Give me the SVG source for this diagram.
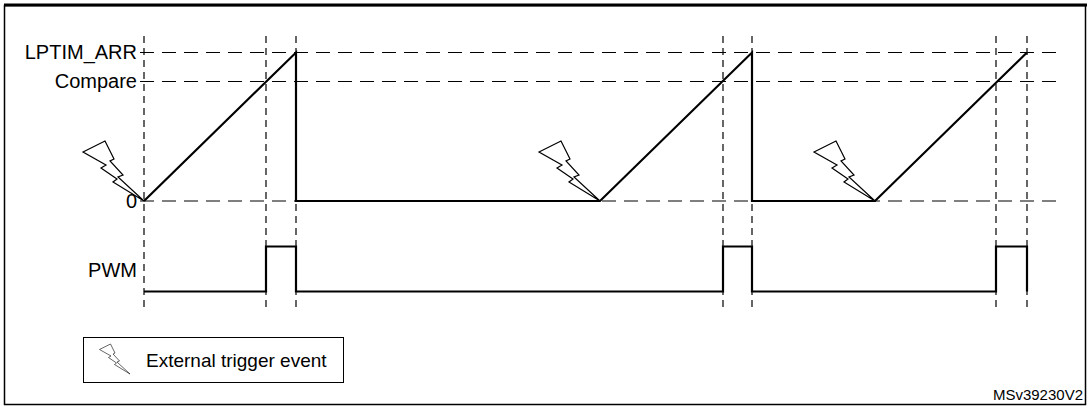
<svg xmlns="http://www.w3.org/2000/svg" width="1087" height="406" viewBox="0 0 1087 406">
<style>
text{font-family:"Liberation Sans",Arial,sans-serif;fill:#000}
.lbl{font-size:20px;text-anchor:end}
.dash{stroke:#000;stroke-width:1.2;stroke-dasharray:14 8;fill:none}
.vd{stroke:#000;stroke-width:1.2;stroke-dasharray:7 5;fill:none}
.sig{stroke:#000;stroke-width:2.2;fill:none;stroke-linejoin:miter}
.bolt{fill:#fff;stroke:#000;stroke-width:1.2;stroke-linejoin:miter}
</style>
<defs>
<polygon id="bolt" class="bolt" points="-61,-49 -39,-60 -30,-42 -34,-40 -21,-26 -26,-24 0,0 -31,-19 -27,-22 -43,-33 -38,-36"/>
</defs>
<rect x="4.5" y="5.5" width="1081" height="399" fill="#fff" stroke="#000" stroke-width="1.5"/>
<line x1="4" y1="5" x2="1087" y2="5" stroke="#000" stroke-width="3"/>
<g id="labels">
<text class="lbl" x="137" y="59">LPTIM_ARR</text>
<text class="lbl" x="137" y="88">Compare</text>
<text class="lbl" x="137" y="208">0</text>
<text class="lbl" x="137" y="277">PWM</text>
</g>
<g id="grid">
<path class="dash" d="M140 52.5H1060M140 81.5H1060M140 201H1060"/>
<path class="vd" d="M144 36V310M266 36V310M296 36V310M723 36V310M752 36V310M996 36V310M1027 36V310"/>
</g>
<g id="counter">
<path class="sig" d="M144 201L296 52.5V201H600L752 52.5V201H875L1027 52.5"/>
</g>
<g id="pwm">
<path class="sig" d="M144 291.5H266V246.5H296V291.5H723V246.5H752V291.5H996V246.5H1027V291.5"/>
</g>
<g id="triggers">
<use href="#bolt" x="144" y="201"/>
<use href="#bolt" x="600" y="201"/>
<use href="#bolt" x="875" y="201"/>
</g>
<g id="legend">
<rect x="83.5" y="337.5" width="260" height="45" fill="#fff" stroke="#000" stroke-width="1"/>
<use href="#bolt" transform="translate(130,374) scale(0.5)"/>
<text x="146" y="367" font-size="19">External trigger event</text>
</g>
<text x="1083" y="400" font-size="15" text-anchor="end">MSv39230V2</text>
</svg>
